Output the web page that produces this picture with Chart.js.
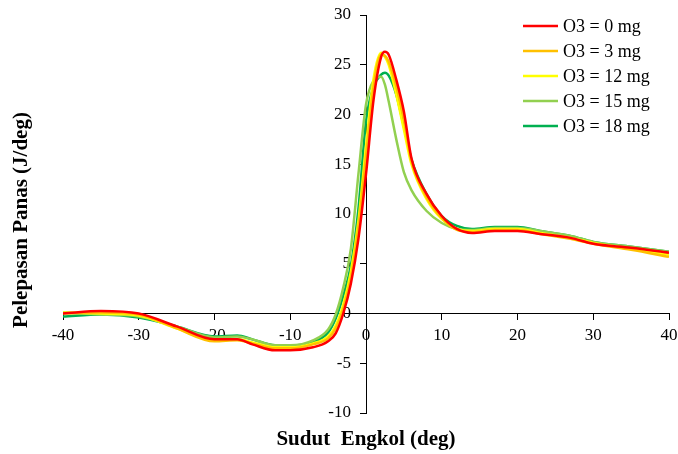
<!DOCTYPE html>
<html>
<head>
<meta charset="utf-8">
<script src="https://cdn.jsdelivr.net/npm/chart.js@4.4.0/dist/chart.umd.min.js"></script>
<style>
  html, body { margin: 0; padding: 0; background: #fff; }
</style>
</head>
<body>
<canvas id="heat-chart" width="678" height="454"></canvas>
<script>
// sudut engkol (deg)
const crankAngle = [-40, -35, -30, -25, -20, -17, -15, -12, -10, -7, -5, -4, -3,
  -2, -1, 0, 1, 2, 2.5, 3, 4, 5, 6,
  8, 10, 12, 14, 17, 20, 23, 27, 30, 35, 40];

// pelepasan panas (J/deg) per variasi O3
const o3_0 = [0.0, 0.25, 0.0, -1.3, -2.6, -2.6, -3.1, -3.7, -3.7, -3.4, -2.8, -2.0, 0.0,
  3.0, 7.5, 14.0, 21.5, 25.8, 26.3, 26.0, 23.5, 20.3, 15.6,
  12.0, 9.8, 8.5, 8.1, 8.3, 8.3, 8.0, 7.6, 7.0, 6.6, 6.1];
const o3_3 = [0.0, 0.1, -0.1, -1.5, -2.8, -2.7, -3.0, -3.5, -3.5, -3.1, -2.5, -1.5, 0.5,
  3.6, 8.7, 15.8, 22.8, 26.0, 25.9, 25.3, 22.8, 19.5, 15.3,
  11.7, 9.6, 8.4, 8.2, 8.4, 8.4, 8.0, 7.5, 7.0, 6.4, 5.7];
const o3_12 = [0.1, 0.0, -0.2, -1.5, -2.7, -2.6, -2.9, -3.4, -3.4, -3.0, -2.3, -1.2, 0.9,
  4.2, 9.3, 16.8, 23.6, 26.2, 25.8, 25.0, 22.0, 18.5, 15.0,
  11.5, 9.5, 8.5, 8.3, 8.5, 8.5, 8.1, 7.6, 7.1, 6.5, 5.9];
const o3_15 = [0.1, -0.1, -0.3, -1.3, -2.4, -2.3, -2.6, -3.2, -3.2, -2.7, -1.6, -0.1, 2.6,
  6.5, 14.0, 21.0, 23.4, 23.8, 23.0, 21.3, 17.5, 14.2, 12.4,
  10.3, 9.1, 8.5, 8.4, 8.6, 8.6, 8.3, 7.8, 7.2, 6.7, 6.2];
const o3_18 = [-0.3, -0.1, -0.4, -1.3, -2.3, -2.2, -2.6, -3.2, -3.2, -2.9, -1.9, -0.5, 1.8,
  4.8, 10.5, 19.3, 22.8, 24.0, 24.2, 23.9, 22.0, 18.8, 15.5,
  12.0, 9.8, 8.8, 8.5, 8.7, 8.7, 8.3, 7.8, 7.2, 6.7, 6.2];

const seriesNames = ["O3 = 0 mg", "O3 = 3 mg", "O3 = 12 mg", "O3 = 15 mg", "O3 = 18 mg"];
const seriesValues = [o3_0, o3_3, o3_12, o3_15, o3_18];
const seriesColors = ["#ff0000", "#ffc000", "#ffff00", "#92d050", "#00b050"];

const xTicks = [-40, -30, -20, -10, 0, 10, 20, 30, 40];
const yTicks = [-10, -5, 0, 5, 10, 15, 20, 25, 30];

const FONT = '"Liberation Serif", "Times New Roman", serif';

// judul sumbu + legenda digambar sendiri (sumbu berada di tengah)
const decorPlugin = {
  id: "decor",
  afterDraw(chart) {
    const ctx = chart.ctx;
    ctx.save();
    ctx.fillStyle = "#000";
    ctx.font = "bold 21px " + FONT;
    ctx.textAlign = "center";
    ctx.textBaseline = "middle";
    ctx.fillText("Sudut  Engkol (deg)", 366, 440);
    ctx.translate(22, 220);
    ctx.rotate(-Math.PI / 2);
    ctx.fillText("Pelepasan Panas (J/deg)", 0, 0);
    ctx.restore();

    ctx.save();
    ctx.font = "18px " + FONT;
    ctx.textAlign = "left";
    ctx.textBaseline = "middle";
    chart.data.datasets.forEach((ds, i) => {
      const y = 26 + i * 25;
      ctx.strokeStyle = ds.borderColor;
      ctx.lineWidth = 2.5;
      ctx.beginPath();
      ctx.moveTo(523, y);
      ctx.lineTo(558, y);
      ctx.stroke();
      ctx.fillStyle = "#000";
      ctx.fillText(ds.label, 563, y + 1);
    });
    ctx.restore();
  }
};

// sumbu di tengah: jangan biarkan label ujung menggeser area plot
function noEdgePadding(scale) {
  scale.paddingLeft = 0;
  scale.paddingRight = 0;
  scale.paddingTop = 0;
  scale.paddingBottom = 0;
}

const ctx = document.getElementById("heat-chart").getContext("2d");
new Chart(ctx, {
  type: "line",
  data: {
    datasets: seriesNames.map((name, i) => ({
      label: name,
      data: crankAngle.map((x, j) => ({ x: x, y: seriesValues[i][j] })),
      borderColor: seriesColors[i],
      backgroundColor: seriesColors[i],
      borderWidth: 2.5,
      pointRadius: 0,
      cubicInterpolationMode: "monotone",
      fill: false
    }))
  },
  options: {
    responsive: false,
    devicePixelRatio: 1,
    animation: false,
    layout: { padding: { left: 63, right: 9, top: 15, bottom: 41 } },
    plugins: {
      legend: { display: false },
      tooltip: { enabled: false }
    },
    scales: {
      x: {
        type: "linear",
        position: { y: 0 },
        min: -40,
        max: 40,
        afterBuildTicks: (axis) => { axis.ticks = xTicks.map(v => ({ value: v })); },
        afterFit: noEdgePadding,
        grid: { display: true, drawOnChartArea: false, drawTicks: true, tickLength: 6, color: "#000" },
        border: { display: true, color: "#000", width: 1 },
        ticks: { color: "#000", font: { family: FONT, size: 17 }, padding: 6, maxRotation: 0 }
      },
      y: {
        type: "linear",
        position: "center",
        min: -10,
        max: 30,
        afterBuildTicks: (axis) => { axis.ticks = yTicks.map(v => ({ value: v })); },
        afterFit: noEdgePadding,
        grid: { display: true, drawOnChartArea: false, drawTicks: true, tickLength: 6, color: "#000" },
        border: { display: true, color: "#000", width: 1 },
        ticks: { color: "#000", font: { family: FONT, size: 17 }, padding: 9 }
      }
    }
  },
  plugins: [decorPlugin]
});
</script>
</body>
</html>
